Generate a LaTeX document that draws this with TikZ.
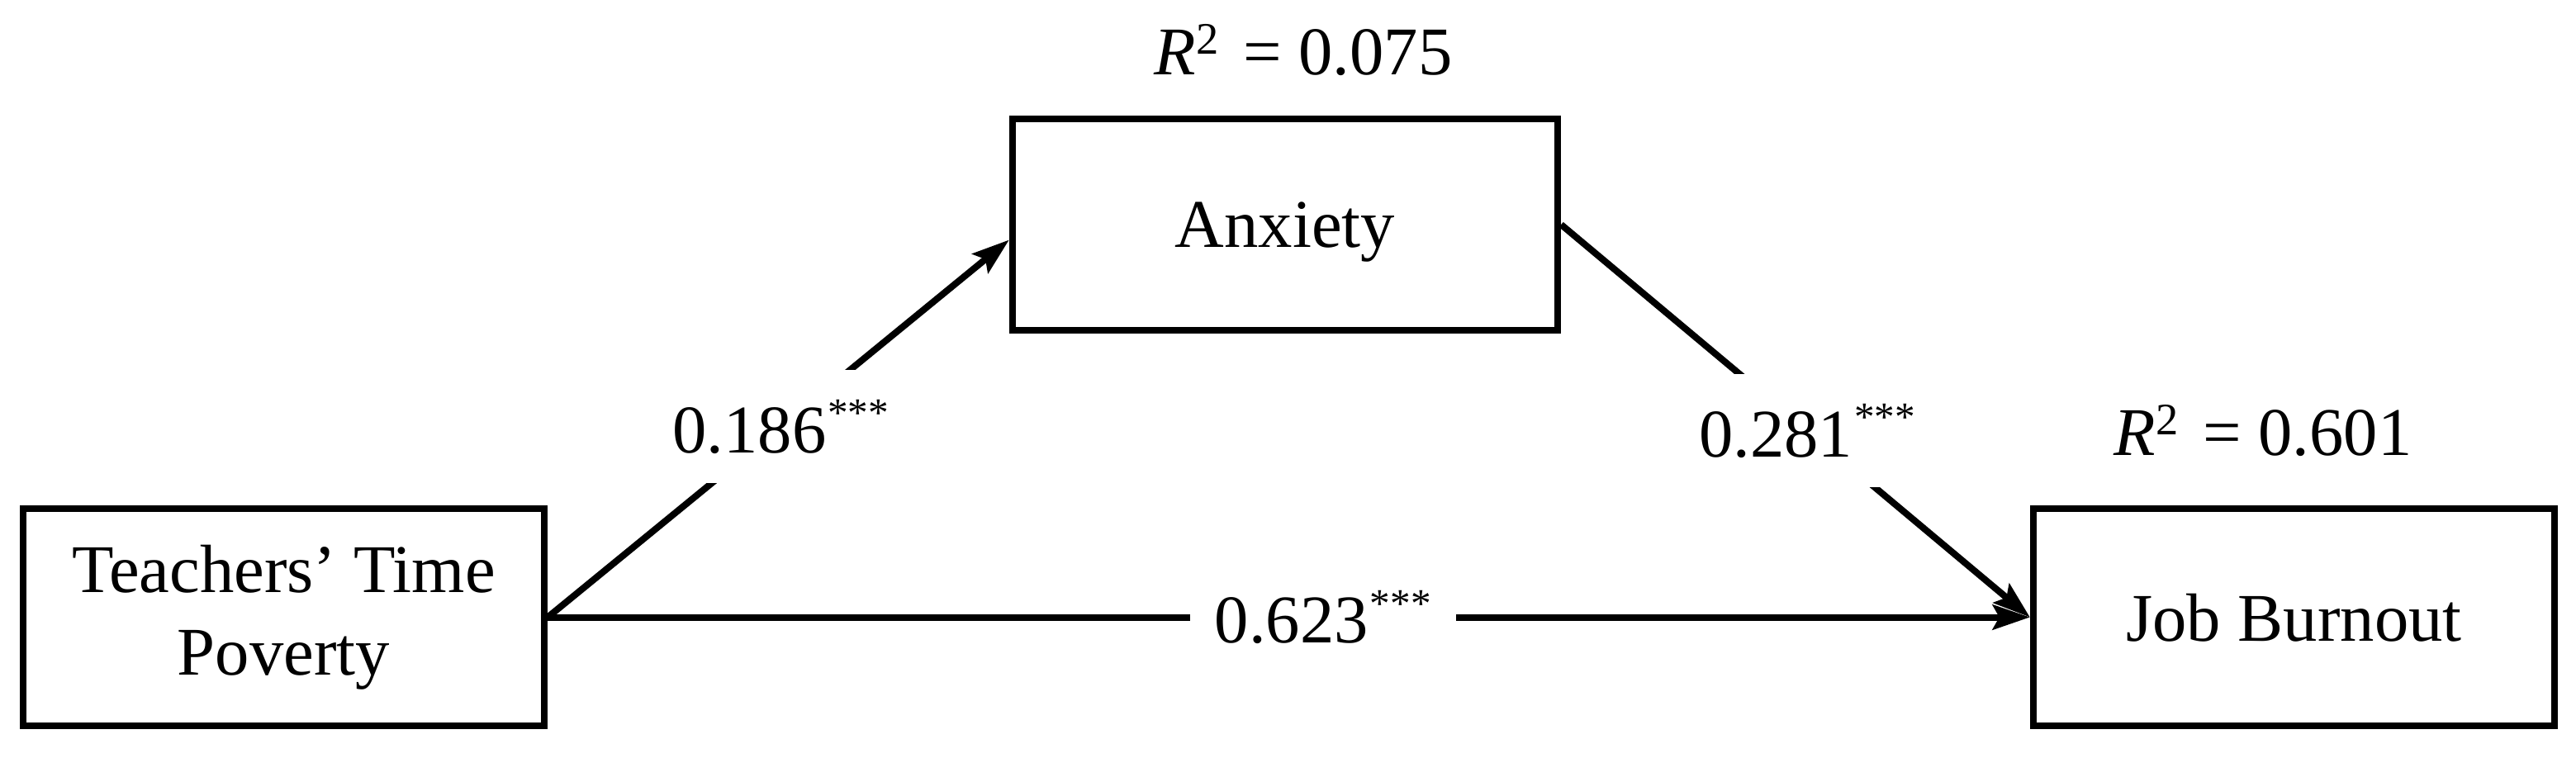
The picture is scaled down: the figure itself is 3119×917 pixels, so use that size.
\documentclass[tikz,border=0pt]{standalone}
\usepackage{fontspec}
\setmainfont{Liberation Serif}
\usetikzlibrary{arrows.meta,calc}
\newcommand{\mystars}{\hspace{0.02cm}\raisebox{9pt}{\fontsize{14pt}{14pt}\selectfont ***}}
\newcommand{\rsq}{\textit{R}\raisebox{7pt}{\fontsize{15.5pt}{15.5pt}\selectfont 2}\hspace{0.3cm}}
\begin{document}
\begin{tikzpicture}[x=0.01cm, y=-0.01cm, font=\fontsize{23.5pt}{28.5pt}\selectfont]
\tikzset{
  varbox/.style={draw, line width=0.08cm, minimum width=6.31cm, minimum height=2.62cm, inner sep=0pt, align=center},
  conn/.style={line width=0.08cm, -{Stealth[length=0.45cm,width=0.3cm,inset=0.08cm]}},
  coef/.style={fill=white, inner xsep=0.3cm, inner ysep=0.36cm}
}
\useasboundingbox (0,0) rectangle (3119,917);
\node[varbox] (A) at (343.5,747.5) {Teachers’ Time\\Poverty};
\node[varbox, minimum width=6.6cm, minimum height=2.56cm, text depth=0pt] (B) at (1556,272) {Anxiety};
\node[varbox, text depth=0pt] (C) at (2777.5,747.5) {Job Burnout};
\node[anchor=base] (r1) at (1578,90) {\rsq= 0.075};
\node[anchor=base] (r2) at (2740,551) {\rsq= 0.601};
\draw[conn] (A.east) -- node[coef, pos=0.505] {0.186\mystars} ($(B.south west)!0.43!(B.north west)$);
\draw[conn] (B.east) -- node[coef, pos=0.525] {0.281\mystars} (C.west);
\draw[conn] (A.east) -- node[coef, pos=0.523] {0.623\mystars} (C.west);
\end{tikzpicture}
\end{document}
